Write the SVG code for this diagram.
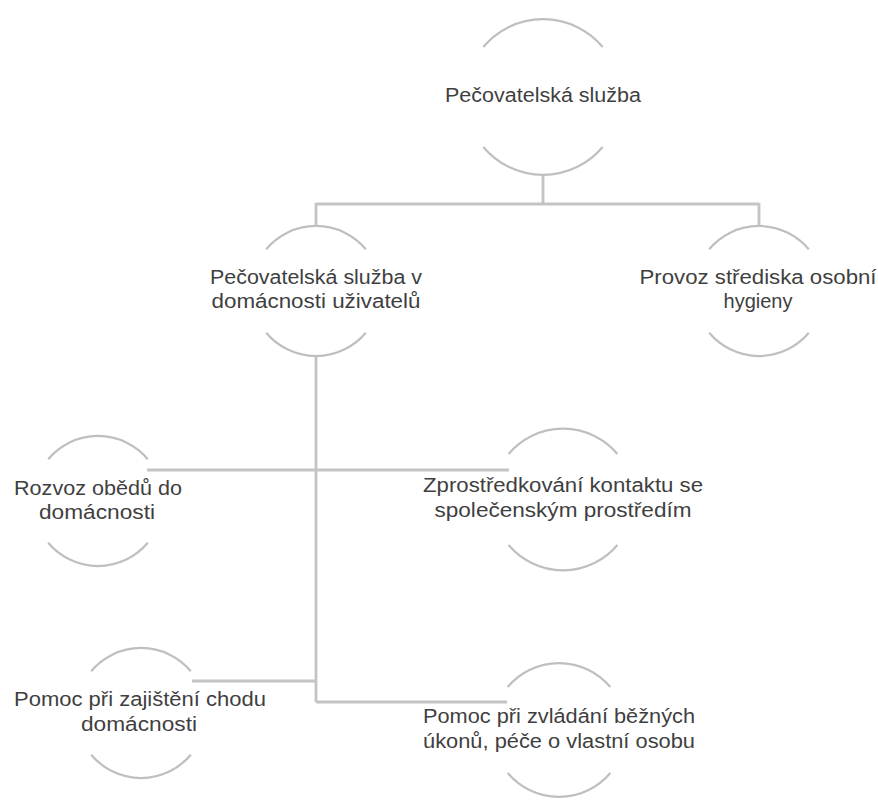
<svg xmlns="http://www.w3.org/2000/svg" width="878" height="801" viewBox="0 0 878 801">
<style>
.arc{fill:none;stroke:#bfbfbf;stroke-width:2.2}
.con{fill:none;stroke:#c4c4c4;stroke-width:2.8}
text{font-family:"Liberation Sans",Arial,sans-serif;font-size:20px;fill:#3f3f3f;text-anchor:middle}
</style>
<rect width="878" height="801" fill="#ffffff"/>
<g id="connectors">
<path class="con" d="M543 175V204M316 204H759M316 203V226M759 203V226"/>
<path class="con" d="M316 356V702"/>
<path class="con" d="M147 470H509"/>
<path class="con" d="M192 681H316"/>
<path class="con" d="M316 702H507"/>
</g>
<g id="n0">
<path class="arc" d="M483.3 47A78 78 0 0 1 602.7 47M483.3 147A78 78 0 0 0 602.7 147"/>
<text x="543" y="102" textLength="196" lengthAdjust="spacingAndGlyphs">Pečovatelská služba</text>
</g>
<g id="n1">
<path class="arc" d="M266.2 249.2A65 65 0 0 1 365.8 249.2M266.2 332.8A65 65 0 0 0 365.8 332.8"/>
<text x="316" y="284" textLength="212" lengthAdjust="spacingAndGlyphs">Pečovatelská služba v</text>
<text x="316" y="308" textLength="209" lengthAdjust="spacingAndGlyphs">domácnosti uživatelů</text>
</g>
<g id="n2">
<path class="arc" d="M709.2 249.2A65 65 0 0 1 808.8 249.2M709.2 332.8A65 65 0 0 0 808.8 332.8"/>
<text x="758" y="284" textLength="237" lengthAdjust="spacingAndGlyphs">Provoz střediska osobní</text>
<text x="758" y="308">hygieny</text>
</g>
<g id="n3">
<path class="arc" d="M48.2 459.2A65 65 0 0 1 147.8 459.2M48.2 542.8A65 65 0 0 0 147.8 542.8"/>
<text x="98" y="495" textLength="168" lengthAdjust="spacingAndGlyphs">Rozvoz obědů do</text>
<text x="97" y="519" textLength="116" lengthAdjust="spacingAndGlyphs">domácnosti</text>
</g>
<g id="n4">
<path class="arc" d="M508.6 454A71 71 0 0 1 617.4 454M508.6 545A71 71 0 0 0 617.4 545"/>
<text x="563" y="492" textLength="280" lengthAdjust="spacingAndGlyphs">Zprostředkování kontaktu se</text>
<text x="563" y="517" textLength="257" lengthAdjust="spacingAndGlyphs">společenským prostředím</text>
</g>
<g id="n5">
<path class="arc" d="M91.2 671.2A65 65 0 0 1 190.8 671.2M91.2 754.8A65 65 0 0 0 190.8 754.8"/>
<text x="140" y="706" textLength="252" lengthAdjust="spacingAndGlyphs">Pomoc při zajištění chodu</text>
<text x="139" y="731" textLength="116" lengthAdjust="spacingAndGlyphs">domácnosti</text>
</g>
<g id="n6">
<path class="arc" d="M507.7 687A67 67 0 0 1 610.3 687M507.7 773A67 67 0 0 0 610.3 773"/>
<text x="559" y="723" textLength="272" lengthAdjust="spacingAndGlyphs">Pomoc při zvládání běžných</text>
<text x="559" y="748" textLength="272" lengthAdjust="spacingAndGlyphs">úkonů, péče o vlastní osobu</text>
</g>
</svg>
